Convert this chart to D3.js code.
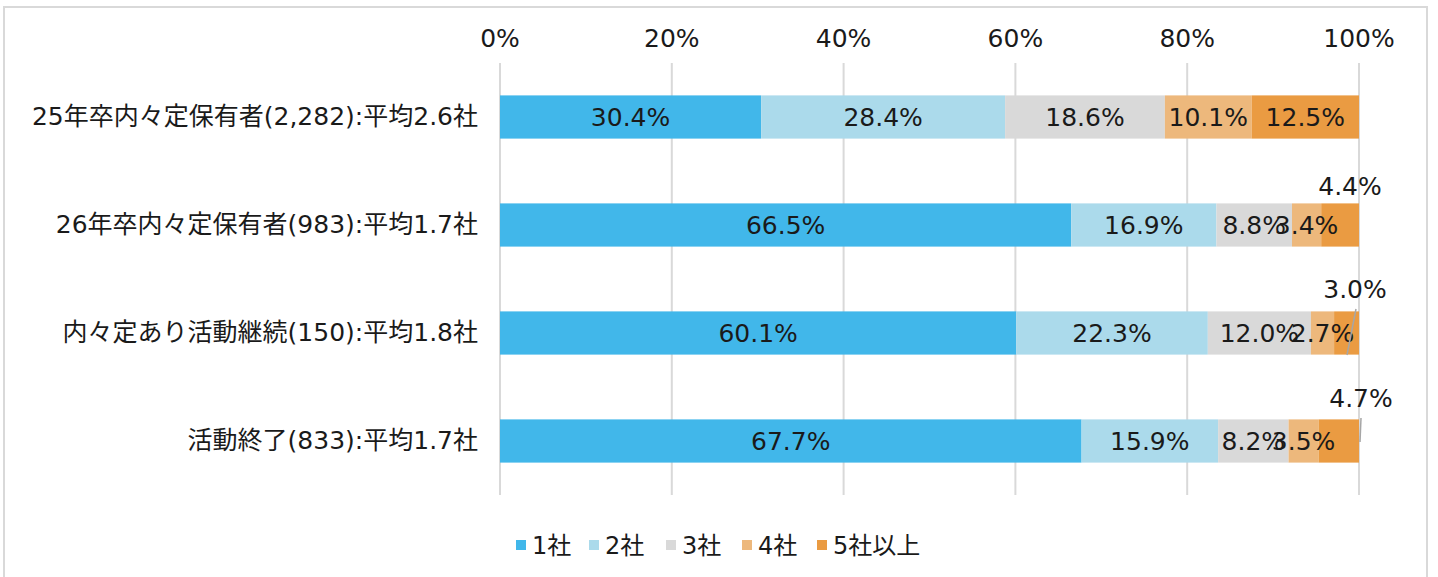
<!DOCTYPE html>
<html>
<head>
<meta charset="utf-8">
<script src="https://cdn.jsdelivr.net/npm/d3@7"></script>
<style>
  body { margin: 0; background: #fff; }
  svg { display: block; font-family: "DejaVu Sans", "Noto Sans CJK JP", sans-serif; }
</style>
</head>
<body>
<script>
// categories (top to bottom)
var categories = [
    "25年卒内々定保有者(2,282):平均2.6社",
    "26年卒内々定保有者(983):平均1.7社",
    "内々定あり活動継続(150):平均1.8社",
    "活動終了(833):平均1.7社"
];
var series = ["1社", "2社", "3社", "4社", "5社以上"];
var s1 = [30.4, 66.5, 60.1, 67.7];
var s2 = [28.4, 16.9, 22.3, 15.9];
var s3 = [18.6, 8.8, 12.0, 8.2];
var s4 = [10.1, 3.4, 2.7, 3.5];
var s5 = [12.5, 4.4, 3.0, 4.7];
var ticks = [0, 20, 40, 60, 80, 100];
var colors = ["#41b7ea", "#abdaeb", "#d9d9d9", "#edb87c", "#ea9b42"];

var width = 1438, height = 577;

var svg = d3.select("body").append("svg")
    .attr("width", width)
    .attr("height", height);

// chart frame
svg.append("rect")
    .attr("x", 4).attr("y", 7)
    .attr("width", 1423).attr("height", 580)
    .attr("fill", "none")
    .attr("stroke", "#d9d9d9")
    .attr("stroke-width", 2);

var x = d3.scaleLinear()
    .domain([0, 100])
    .range([500, 1359]);

var y = d3.scaleBand()
    .domain(categories)
    .range([63, 495])
    .paddingInner(0.6)
    .paddingOuter(0.3);

// gridlines
svg.append("g")
    .selectAll("line")
    .data(ticks)
    .enter().append("line")
    .attr("x1", function (d) { return x(d); })
    .attr("x2", function (d) { return x(d); })
    .attr("y1", 63)
    .attr("y2", 495)
    .attr("stroke", "#d9d9d9")
    .attr("stroke-width", 2);

// top axis labels
svg.append("g")
    .selectAll("text")
    .data(ticks)
    .enter().append("text")
    .attr("x", function (d) { return x(d); })
    .attr("y", 47)
    .attr("text-anchor", "middle")
    .attr("font-size", 25)
    .attr("fill", "#1a1a1a")
    .text(function (d) { return d + "%"; });

// category labels
svg.append("g")
    .selectAll("text")
    .data(categories)
    .enter().append("text")
    .attr("x", 478)
    .attr("y", function (d) { return y(d) + y.bandwidth() / 2 + 8; })
    .attr("text-anchor", "end")
    .attr("font-size", 25)
    .attr("fill", "#1a1a1a")
    .text(function (d) { return d; });

// stack data
var allSeries = [s1, s2, s3, s4, s5];
var rows = categories.map(function (c, i) {
    var r = { cat: c };
    series.forEach(function (s, k) { r[s] = allSeries[k][i]; });
    return r;
});
var stacked = d3.stack().keys(series)(rows);

var layers = svg.append("g")
    .selectAll("g")
    .data(stacked)
    .enter().append("g")
    .attr("fill", function (d, k) { return colors[k]; });

layers.selectAll("rect")
    .data(function (d) { return d; })
    .enter().append("rect")
    .attr("x", function (d) { return x(d[0]); })
    .attr("y", function (d) { return y(d.data.cat); })
    .attr("width", function (d) { return Math.min(x(d[1]), x(100)) - x(d[0]); })
    .attr("height", y.bandwidth());

// data labels; the last series of rows 2-4 sits above the bar
var labels = svg.append("g");
stacked.forEach(function (layer, k) {
    layer.forEach(function (d, i) {
        var cy = y(d.data.cat) + y.bandwidth() / 2;
        var v = d[1] - d[0];
        var lx = (x(d[0]) + Math.min(x(d[1]), x(100))) / 2;
        var ly = cy + 9;
        if (k === 4 && i > 0) {
            var off = [0, [-9, -30], [-4, -35], [2, -34]][i];
            lx = x(100) + off[0];
            ly = cy + off[1];
            if (i === 2) {
                labels.append("line")
                    .attr("x1", x(100) - 3).attr("y1", cy - 24)
                    .attr("x2", x(100) - 12).attr("y2", cy + 22)
                    .attr("stroke", "#a6a6a6").attr("stroke-width", 1.5);
            }
            if (i === 3) {
                labels.append("line")
                    .attr("x1", x(100) + 2).attr("y1", cy - 23)
                    .attr("x2", x(100) + 1).attr("y2", cy + 1)
                    .attr("stroke", "#a6a6a6").attr("stroke-width", 1.5);
            }
        }
        labels.append("text")
            .attr("x", lx)
            .attr("y", ly)
            .attr("text-anchor", "middle")
            .attr("font-size", 25)
            .attr("fill", "#1a1a1a")
            .text(v.toFixed(1) + "%");
    });
});

// legend
var legendX = [516, 589, 666, 742, 817];
var legend = svg.append("g")
    .selectAll("g")
    .data(series)
    .enter().append("g")
    .attr("transform", function (d, k) { return "translate(" + legendX[k] + ",545)"; });

legend.append("rect")
    .attr("x", 0).attr("y", -5)
    .attr("width", 10).attr("height", 10)
    .attr("fill", function (d, k) { return colors[k]; });

legend.append("text")
    .attr("x", 16)
    .attr("y", 9)
    .attr("font-size", 24)
    .attr("fill", "#1a1a1a")
    .text(function (d) { return d; });
</script>
</body>
</html>
